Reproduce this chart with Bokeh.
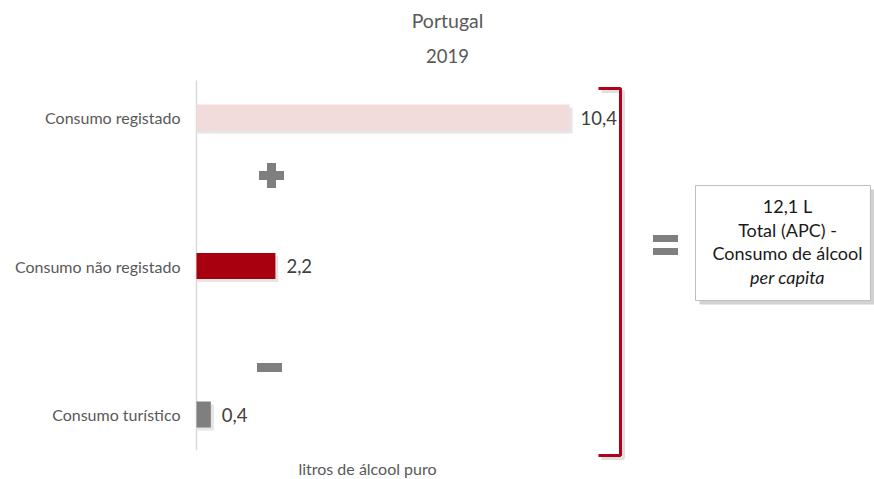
from bokeh.plotting import figure
from bokeh.models import Range1d, ColumnDataSource
from bokeh.core.properties import value
from bokeh.embed import file_html
from bokeh.resources import INLINE

# ---- data ----
categories = ["Consumo registado", "Consumo não registado", "Consumo turístico"]
values = [10.4, 2.2, 0.4]
value_labels = ["10,4", "2,2", "0,4"]
bar_colors = ["#f2dcdb", "#a8000f", "#7f7f7f"]
title_text = "Portugal"
year_text = "2019"
x_title = "litros de álcool puro"
total_lines = ["12,1 L", "Total (APC) -", "Consumo de álcool", "per capita"]
total_styles = ["normal", "normal", "normal", "italic"]

FONT = "Lato"

# ---- pixel <-> data helpers for decorations ----
X0, PXU = 196.0, 35.87      # x pixel of 0, pixels per litre
Y0, PYU = 117.0, 148.5      # y pixel of first category, pixels per category
W, H = 874, 479
def X(px): return (px - X0) / PXU
def Y(py): return (py - Y0) / PYU

p = figure(width=W, height=H, output_backend="svg", toolbar_location=None,
           x_range=Range1d(X(0), X(W)), y_range=Range1d(Y(H), Y(0)),
           x_axis_location=None, y_axis_location=None, min_border=0)
p.grid.visible = False
p.outline_line_color = None
p.background_fill_color = "white"
p.border_fill_color = "white"

ypos = list(range(len(categories)))
src = ColumnDataSource(dict(cat=categories, val=values, lab=value_labels,
                            color=bar_colors, y=ypos, zero=[0] * len(values)))

# axis line
p.segment(x0=[0], y0=[-0.25], x1=[0], y1=[len(categories) - 0.76],
          line_color="#d9d9d9", line_width=1.5)

# bar shadows
p.quad(left=[X(X0 + 1)] * 3, right=[v + X(X0 + 3) for v in values],
       top=[y - 0.087 + Y(Y0 + 3) for y in ypos], bottom=[y + 0.087 + Y(Y0 + 3) for y in ypos],
       fill_color="#000000", fill_alpha=0.10, line_color=None)
# bars
p.hbar(y="y", right="val", left=0, height=0.175, fill_color="color",
       line_color=None, source=src)

# value labels
p.text(x="val", y="y", text="lab", source=src, x_offset=11,
       text_align="left", text_baseline="middle",
       text_font=value(FONT), text_font_size=value("18.5px"), text_color="#404040")
# category labels
p.text(x="zero", y="y", text="cat", source=src, x_offset=-16,
       text_align="right", text_baseline="middle",
       text_font=value(FONT), text_font_size=value("16px"), text_color="#595959")

# titles
p.text(x=[X(447)], y=[Y(20)], text=[title_text], text_align="center", text_baseline="middle",
       text_font=value(FONT), text_font_size=value("19.5px"), text_color="#595959")
p.text(x=[X(447)], y=[Y(55)], text=[year_text], text_align="center", text_baseline="middle",
       text_font=value(FONT), text_font_size=value("18.5px"), text_color="#595959")
p.text(x=[X(367)], y=[Y(468)], text=[x_title], text_align="center", text_baseline="middle",
       text_font=value(FONT), text_font_size=value("16px"), text_color="#595959")

# plus / minus / equals signs
sign = "#7f7f7f"
p.rect(x=[X(271)], y=[Y(175)], width=25, height=9, width_units="screen", height_units="screen",
       fill_color=sign, line_color=None)
p.rect(x=[X(271)], y=[Y(175)], width=9, height=25, width_units="screen", height_units="screen",
       fill_color=sign, line_color=None)
p.rect(x=[X(269)], y=[Y(367)], width=25, height=9, width_units="screen", height_units="screen",
       fill_color=sign, line_color=None)
p.rect(x=[X(665), X(665)], y=[Y(238), Y(251)], width=25, height=7, width_units="screen",
       height_units="screen", fill_color=sign, line_color=None)

# bracket (shadow + line)
bx = [X(598), X(620), X(620), X(598)]
p.line(x=[v + X(X0 + 3) for v in bx], y=[Y(91), Y(91), Y(458), Y(458)],
       line_color="#cccccc", line_width=3, line_alpha=0.6)
p.line(x=bx, y=[Y(88), Y(88), Y(455), Y(455)], line_color="#b0001a", line_width=3)

# total box (shadow + box)
p.quad(left=[X(699)], right=[X(874)], top=[Y(189)], bottom=[Y(304)],
       fill_color="#bfbfbf", fill_alpha=0.7, line_color=None)
p.quad(left=[X(695)], right=[X(870)], top=[Y(185)], bottom=[Y(300)],
       fill_color="white", line_color="#bfbfbf", line_width=1)
for txt, sty, py in zip(total_lines, total_styles, [205, 229, 252, 276]):
    p.text(x=[X(787)], y=[Y(py)], text=[txt], text_align="center", text_baseline="middle",
           text_font=value(FONT), text_font_size=value("18px"), text_font_style=sty,
           text_color="#1a1a1a")

open("out.html", "w").write(file_html(p, INLINE))
